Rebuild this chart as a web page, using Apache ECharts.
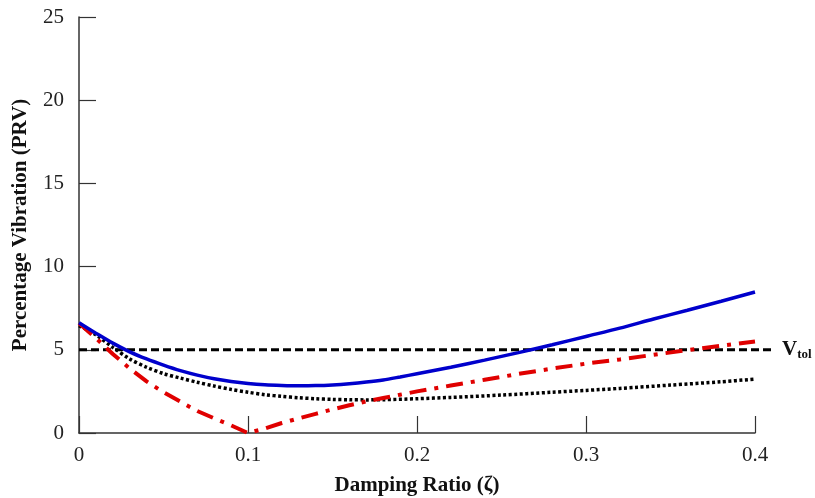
<!DOCTYPE html>
<html>
<head>
<meta charset="utf-8">
<script src="https://cdn.jsdelivr.net/npm/echarts@6/dist/echarts.min.js"></script>
<style>
  html, body { margin: 0; padding: 0; background: #fff; }
  #chart { width: 815px; height: 498px; }
</style>
</head>
<body>
<div id="chart"></div>
<script>
// damping ratio samples and readings for each curve
var zetaBlue = [0, 0.01, 0.02, 0.03, 0.04, 0.05, 0.06, 0.07, 0.08, 0.09, 0.10, 0.11, 0.12, 0.13, 0.14, 0.15, 0.16, 0.17, 0.18, 0.19, 0.20, 0.22, 0.24, 0.26, 0.28, 0.30, 0.32, 0.34, 0.36, 0.38, 0.40];
var prvBlue = [6.62, 6.0, 5.4, 4.88, 4.45, 4.08, 3.75, 3.48, 3.26, 3.1, 2.98, 2.9, 2.86, 2.84, 2.85, 2.89, 2.96, 3.06, 3.19, 3.37, 3.56, 3.95, 4.38, 4.83, 5.3, 5.8, 6.3, 6.85, 7.38, 7.92, 8.47];

var zetaRed = [0, 0.01, 0.02, 0.03, 0.04, 0.05, 0.06, 0.07, 0.08, 0.09, 0.10, 0.11, 0.12, 0.13, 0.14, 0.15, 0.16, 0.17, 0.18, 0.19, 0.20, 0.22, 0.24, 0.26, 0.28, 0.30, 0.32, 0.34, 0.36, 0.38, 0.40];
var prvRed = [6.6, 5.7, 4.75, 3.88, 3.1, 2.45, 1.88, 1.32, 0.88, 0.46, 0.0, 0.27, 0.6, 0.88, 1.15, 1.42, 1.67, 1.9, 2.1, 2.3, 2.5, 2.85, 3.2, 3.55, 3.87, 4.17, 4.42, 4.7, 4.98, 5.25, 5.5];

var zetaDot = [0, 0.01, 0.02, 0.03, 0.04, 0.05, 0.06, 0.07, 0.08, 0.09, 0.10, 0.11, 0.12, 0.13, 0.14, 0.15, 0.16, 0.17, 0.18, 0.20, 0.22, 0.25, 0.28, 0.30, 0.32, 0.35, 0.38, 0.40];
var prvDot = [6.45, 5.9, 5.15, 4.45, 3.95, 3.57, 3.3, 3.05, 2.82, 2.62, 2.45, 2.3, 2.2, 2.12, 2.06, 2.02, 2.0, 1.99, 2.0, 2.06, 2.14, 2.28, 2.45, 2.56, 2.68, 2.88, 3.08, 3.24];

// tolerance line, runs a little past the axis end
var zetaTol = [0, 0.412];
var prvTol = [5, 5];

var xTicks = [0, 0.1, 0.2, 0.3, 0.4];
var yTicks = [0, 5, 10, 15, 20, 25];

function pairs(xs, ys) {
  return xs.map(function (x, i) { return [x, ys[i]]; });
}

var chart = echarts.init(document.getElementById('chart'), null, { renderer: 'canvas' });

var serif = 'Liberation Serif, Times New Roman, serif';

var option = {
  animation: false,
  grid: [
    { left: 79, right: 60, top: 17, bottom: 65, containLabel: false, outerBoundsMode: 'none' },
    // same scale, a bit wider, so the Vtol line can run past 0.4
    { left: 79, right: 40, top: 17, bottom: 65, containLabel: false, outerBoundsMode: 'none' }
  ],
  xAxis: [{
    type: 'value',
    gridIndex: 0,
    min: xTicks[0],
    max: xTicks[xTicks.length - 1],
    interval: 0.1,
    name: 'Damping Ratio (ζ)',
    nameLocation: 'middle',
    nameGap: 42,
    nameTextStyle: { fontFamily: serif, fontWeight: 'bold', fontSize: 21, color: '#111' },
    axisLine: { show: true, lineStyle: { color: '#333', width: 1.5 } },
    axisTick: { show: true, inside: true, length: 17, lineStyle: { color: '#333', width: 1.2 } },
    axisLabel: { fontFamily: serif, fontSize: 21, color: '#222', margin: 12 },
    splitLine: { show: false }
  }, {
    type: 'value',
    gridIndex: 1,
    show: false,
    min: 0,
    max: zetaTol[1]
  }],
  yAxis: [{
    type: 'value',
    gridIndex: 0,
    min: yTicks[0],
    max: yTicks[yTicks.length - 1],
    interval: 5,
    name: 'Percentage Vibration (PRV)',
    nameLocation: 'middle',
    nameGap: 48,
    nameTextStyle: { fontFamily: serif, fontWeight: 'bold', fontSize: 21, color: '#111' },
    axisLine: { show: true, lineStyle: { color: '#333', width: 1.5 } },
    axisTick: { show: true, inside: true, length: 17, lineStyle: { color: '#333', width: 1.2 } },
    axisLabel: { fontFamily: serif, fontSize: 21, color: '#222', margin: 15 },
    splitLine: { show: false }
  }, {
    type: 'value',
    gridIndex: 1,
    show: false,
    min: yTicks[0],
    max: yTicks[yTicks.length - 1]
  }],
  series: [
    {
      type: 'line',
      xAxisIndex: 1,
      yAxisIndex: 1,
      data: pairs(zetaTol, prvTol),
      symbol: 'none',
      lineStyle: { color: '#000', width: 3, type: [8, 4] },
      endLabel: {
        show: true,
        distance: 7,
        formatter: '{v|V}{s|tol}',
        rich: {
          v: { fontFamily: serif, fontWeight: 'bold', fontSize: 21, color: '#111' },
          s: { fontFamily: serif, fontWeight: 'bold', fontSize: 13, color: '#111', padding: [10, 0, 0, 0] }
        }
      },
      z: 1
    },
    {
      type: 'line',
      data: pairs(zetaDot, prvDot),
      symbol: 'none',
      smooth: 0.3,
      lineStyle: { color: '#000', width: 3.5, type: [3, 2.5] },
      z: 2
    },
    {
      type: 'line',
      data: pairs(zetaRed, prvRed),
      symbol: 'none',
      lineStyle: { color: '#e00000', width: 4, type: [17, 8, 4, 8] },
      z: 3
    },
    {
      type: 'line',
      data: pairs(zetaBlue, prvBlue),
      symbol: 'none',
      smooth: 0.3,
      lineStyle: { color: '#0000cc', width: 3.5 },
      z: 4
    }
  ]
};

chart.setOption(option);
</script>
</body>
</html>
